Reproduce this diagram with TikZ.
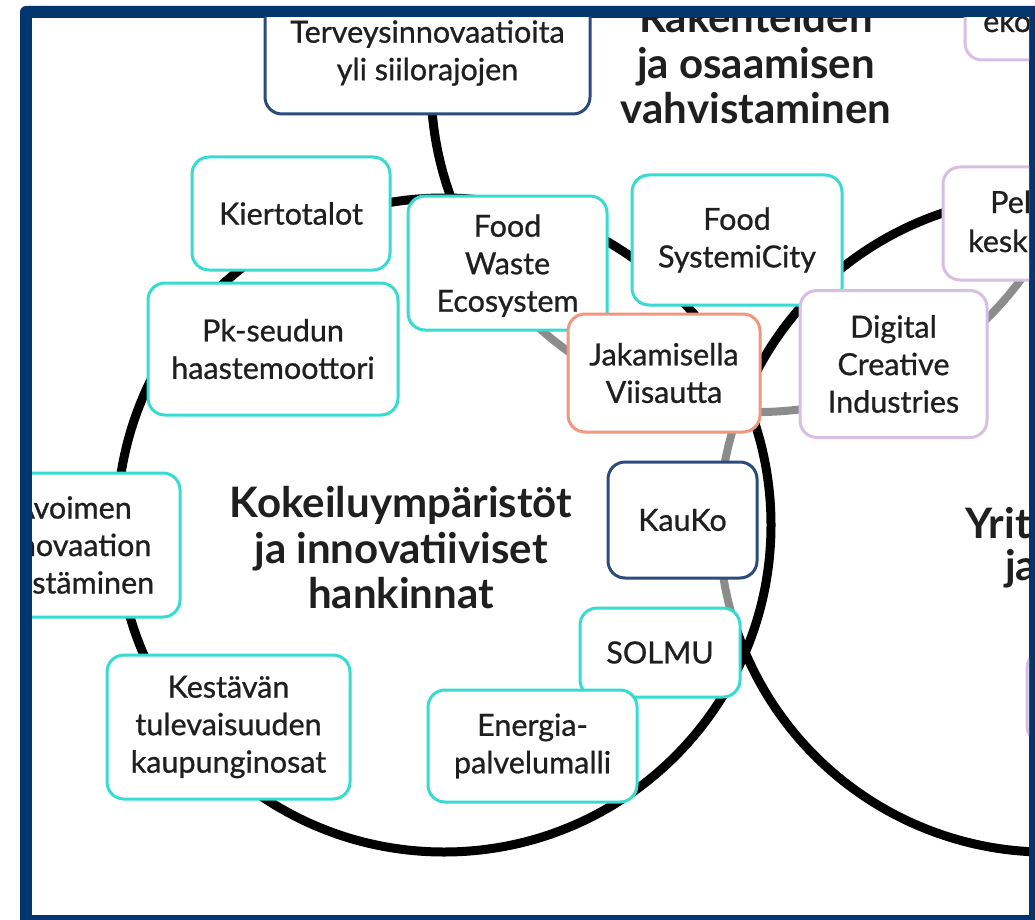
\documentclass[tikz,border=0pt]{standalone}
\usepackage{fontspec}
\setmainfont{Lato}
\newfontfamily\boxfont{Lato}[FakeBold=0.8]
\definecolor{framec}{HTML}{03366F}
\definecolor{cyanb}{HTML}{36DBD2}
\definecolor{navyb}{HTML}{2C4A7E}
\definecolor{salmonb}{HTML}{F2967E}
\definecolor{lilacb}{HTML}{D6BFE3}
\definecolor{grayl}{HTML}{8C8C8C}
\begin{document}
\begin{tikzpicture}[x=1pt,y=-1pt,
  every node/.style={font=\boxfont\fontsize{30.5}{37.5}\selectfont, align=center, inner sep=0pt, text=black!88},
  box/.style={draw, fill=white, line width=3pt, rounded corners=17pt},
  cbox/.style={box, draw=cyanb},
  nbox/.style={box, draw=navyb},
  sbox/.style={box, draw=salmonb},
  lbox/.style={box, draw=lilacb},
  title/.style={font=\fontsize{42}{45.5}\selectfont\bfseries},
  ring/.style={line width=9pt, black},
  gring/.style={line width=8pt, grayl}]
\useasboundingbox (0,0) rectangle (1035,920);
\fill[white] (0,0) rectangle (1035,920);
\fill[framec, rounded corners=6pt] (20,6) rectangle (1060,940);
\fill[white] (32,18) rectangle (1029,915);
\begin{scope}
\clip (32,18) rectangle (1029,915);
\coordinate (CL) at (444,525);
\coordinate (CR) at (1047,524);
\coordinate (CT) at (758,85);
% circles
\draw[ring] (CL) circle[radius=327];
\draw[gring] ([shift={(161:328)}]CR) arc[start angle=161, end angle=202, radius=328];
\draw[ring] ([shift={(202:328)}]CR) arc[start angle=202, end angle=521, radius=328];
\draw[ring] ([shift={(190:327)}]CT) arc[start angle=190, end angle=147.6, radius=327];
\draw[gring] ([shift={(147.6:327)}]CT) arc[start angle=147.6, end angle=-10, radius=327];
% titles
\node[title] (ttop) at (756,63) {Rakenteiden\\ja osaamisen\\vahvistaminen};
\node[title] (tkok) at (401,548) {Kokeiluympäristöt\\ja innovatiiviset\\hankinnat};
\node[title, anchor=base west] (tyrit1) at (965,538) {Yrit};
\node[title, anchor=base west] (tyrit2) at (1005,580) {ja};
% boxes
\node[nbox, minimum width=325, minimum height=122] (terv) at (427.5,53) {Terveysinnovaatioita\\yli siilorajojen};
\node[lbox, minimum width=200, minimum height=140] (eko) at (1065,-10) {};
\node[anchor=base west] (ekot) at (983,32) {eko};
\node[cbox, minimum width=198, minimum height=113] (kiert) at (291,213.5) {Kiertotalot};
\node[cbox, minimum width=250, minimum height=132] (pk) at (273,349) {Pk-seudun\\haastemoottori};
\node[cbox, minimum width=199, minimum height=134, text depth=0pt] (fw) at (507.5,263) {Food\\Waste\\Ecosystem};
\node[cbox, minimum width=210, minimum height=130] (fsc) at (737,240) {Food\\SystemiCity};
\node[sbox, minimum width=192, minimum height=118] (jak) at (664,373) {Jakamisella\\Viisautta};
\node[lbox, minimum width=200, minimum height=113] (pe) at (1043,223.5) {};
\node[anchor=base west] (pet1) at (990,213) {Pel};
\node[anchor=base west] (pet2) at (968,252) {kesk};
\node[lbox, minimum width=187, minimum height=147] (dig) at (893.5,364) {Digital\\Creative\\Industries};
\node[cbox, minimum width=214, minimum height=144] (avo) at (73,545) {Avoimen\\innovaation\\edistäminen};
\node[nbox, minimum width=149, minimum height=116] (kauko) at (682.5,520) {KauKo};
\node[cbox, minimum width=160, minimum height=89] (solmu) at (660,652.5) {SOLMU};
\node[cbox, minimum width=209, minimum height=112] (energ) at (532.5,746) {Energia-\\palvelumalli};
\node[cbox, minimum width=243, minimum height=144] (kest) at (228.5,727) {Kestävän\\tulevaisuuden\\kaupunginosat};
\node[lbox, minimum width=200, minimum height=92] (yrbox) at (1127,697) {};
\end{scope}
\end{tikzpicture}
\end{document}
